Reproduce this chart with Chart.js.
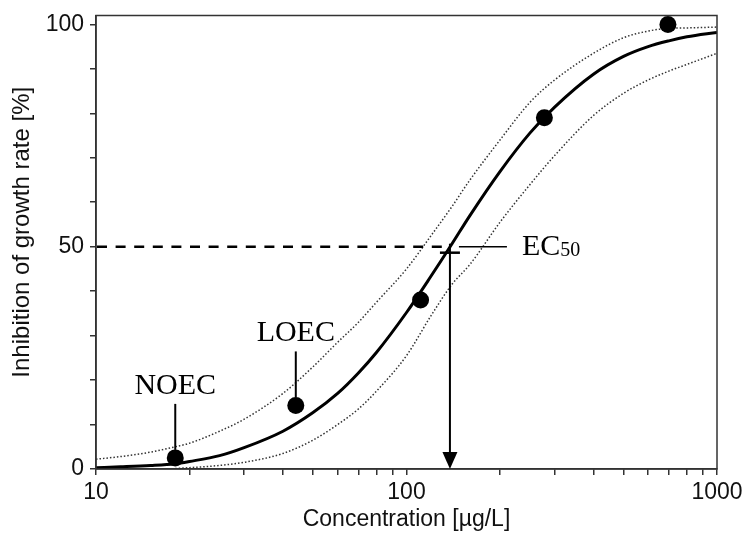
<!DOCTYPE html>
<html>
<head>
<meta charset="utf-8">
<script src="https://cdn.jsdelivr.net/npm/chart.js@4"></script>
<style>
  html, body { margin: 0; padding: 0; background: #fff; }
  #wrap { width: 746px; height: 533px; }
</style>
</head>
<body>
<div id="wrap"><canvas id="c" width="746" height="533"></canvas></div>
<script>
// ---- data ----
const conc     = [10, 12, 15, 18, 20, 25, 30, 40, 50, 60, 70, 80, 100, 120, 140, 160, 200, 250, 300, 400, 500, 600, 700, 800, 1000];
const fitted   = [0.3, 0.5, 0.8, 1.2, 1.7, 3.0, 4.8, 8.5, 12.7, 17, 21.6, 26.2, 35.2, 43.4, 50.6, 57, 66.9, 75.6, 81.4, 88.8, 92.8, 95, 96.3, 97.2, 98.2];
const upperCI  = [2.2, 2.8, 3.8, 5.0, 5.8, 8.5, 11.2, 17, 23, 28.5, 33, 37.5, 45, 52.5, 59, 65, 74, 82.5, 87.5, 93.5, 97, 98.5, 99.1, 99.2, 99.4];
const lowerCI  = [null, null, null, 0.1, 0.3, 0.8, 1.5, 3.5, 6.5, 10, 13.5, 17.5, 25.5, 34.5, 41.5, 46, 55.5, 64, 70.5, 79.5, 84.5, 87.5, 89.5, 91, 93.5];
const obsConc  = [18, 44, 111, 278, 695];
const obsInhib = [2.5, 14.3, 38, 79, 100];
const xTicks   = [10, 20, 30, 40, 50, 60, 70, 80, 90, 100, 200, 300, 400, 500, 600, 700, 800, 900, 1000];
const xLabels  = [10, 100, 1000];
const yTicks   = [0, 10, 20, 30, 40, 50, 60, 70, 80, 90, 100];
const yLabels  = [0, 50, 100];
const ec50     = 138;
const ec50Level = 50;
const markNames = ['NOEC', 'LOEC'];
const markIdx   = [0, 1];

const toXY = (xs, ys) => xs.map((v, i) => ({ x: v, y: ys[i] }));

const SANS = '"Liberation Sans", Arial, sans-serif';
const SERIF = '"Liberation Serif", "Times New Roman", serif';

const annot = {
  id: 'annot',
  afterDatasetsDraw(chart) {
    const { ctx, chartArea: ca } = chart;
    const x = chart.scales.x, y = chart.scales.y;
    ctx.save();
    // frame
    ctx.strokeStyle = '#333';
    ctx.lineWidth = 1.5;
    ctx.strokeRect(ca.left, ca.top, ca.right - ca.left, ca.bottom - ca.top);

    const ex = x.getPixelForValue(ec50), ey = y.getPixelForValue(ec50Level);
    ctx.strokeStyle = '#000';
    ctx.fillStyle = '#000';
    // dashed horizontal at 50 %
    ctx.lineWidth = 2.5;
    ctx.setLineDash([10, 8.6]);
    ctx.beginPath(); ctx.moveTo(ca.left + 1, ey); ctx.lineTo(ex - 8, ey); ctx.stroke();
    ctx.setLineDash([]);
    // thin leader to label
    ctx.lineWidth = 1.5;
    ctx.beginPath(); ctx.moveTo(ex + 9, ey); ctx.lineTo(ex + 57, ey); ctx.stroke();
    // short cross bar
    ctx.lineWidth = 2.5;
    ctx.beginPath(); ctx.moveTo(ex - 10, ey + 6); ctx.lineTo(ex + 10, ey + 6); ctx.stroke();
    // arrow down to axis
    ctx.lineWidth = 2;
    ctx.beginPath(); ctx.moveTo(ex, ey - 3); ctx.lineTo(ex, ca.bottom - 15); ctx.stroke();
    ctx.beginPath();
    ctx.moveTo(ex - 7.5, ca.bottom - 17); ctx.lineTo(ex + 7.5, ca.bottom - 17); ctx.lineTo(ex, ca.bottom);
    ctx.closePath(); ctx.fill();
    // EC50 label
    ctx.textAlign = 'left';
    ctx.textBaseline = 'alphabetic';
    ctx.font = '30px ' + SERIF;
    ctx.fillText('EC', ex + 72, ey + 8);
    const w = ctx.measureText('EC').width;
    ctx.font = '20px ' + SERIF;
    ctx.fillText('50', ex + 72 + w, ey + 9);

    // NOEC / LOEC labels
    ctx.font = '30px ' + SERIF;
    ctx.textAlign = 'center';
    ctx.lineWidth = 2;
    markIdx.forEach((k, i) => {
      const px = x.getPixelForValue(obsConc[k]);
      const py = y.getPixelForValue(obsInhib[k]);
      ctx.beginPath(); ctx.moveTo(px, py - 8); ctx.lineTo(px, py - 54); ctx.stroke();
      ctx.fillText(markNames[i], px, py - 64);
    });
    ctx.restore();
  }
};

new Chart(document.getElementById('c'), {
  type: 'scatter',
  data: {
    datasets: [
      {
        data: toXY(obsConc, obsInhib),
        pointRadius: 8.5, pointHoverRadius: 8.5,
        backgroundColor: '#000', borderWidth: 0, showLine: false, order: 0, clip: false
      },
      {
        data: toXY(conc, fitted), showLine: true, borderColor: '#000', borderWidth: 3,
        pointRadius: 0, cubicInterpolationMode: 'monotone', order: 1
      },
      {
        data: toXY(conc, upperCI), showLine: true, borderColor: '#333', borderWidth: 1.5,
        borderDash: [1.5, 2], pointRadius: 0, cubicInterpolationMode: 'monotone', order: 2
      },
      {
        data: toXY(conc, lowerCI), showLine: true, borderColor: '#333', borderWidth: 1.5,
        borderDash: [1.5, 2], pointRadius: 0, cubicInterpolationMode: 'monotone', spanGaps: false, order: 2
      }
    ]
  },
  options: {
    responsive: false,
    animation: false,
    devicePixelRatio: 1,
    layout: { padding: { top: 15.5, right: 29, left: 0, bottom: 0 } },
    plugins: { legend: { display: false }, tooltip: { enabled: false } },
    scales: {
      x: {
        type: 'logarithmic', min: 10, max: 1000, position: 'bottom',
        afterBuildTicks: s => { s.ticks = xTicks.map(v => ({ value: v })); },
        afterFit: s => { s.height = 64; s.paddingLeft = 0; s.paddingRight = 0; },
        grid: { drawOnChartArea: false, tickLength: 6, color: '#333', lineWidth: 1.5 },
        border: { color: '#333', width: 1.5 },
        ticks: {
          autoSkip: false, maxRotation: 0, padding: 4, color: '#111',
          font: { family: SANS, size: 23 },
          callback: v => xLabels.includes(v) ? String(v) : ''
        },
        title: { display: true, text: 'Concentration [µg/L]', color: '#111',
                 font: { family: SANS, size: 23 }, padding: { top: 0, bottom: 0 } }
      },
      y: {
        type: 'linear', min: 0, max: 102,
        afterBuildTicks: s => { s.ticks = yTicks.map(v => ({ value: v })); },
        afterFit: s => { s.width = 96; s.paddingTop = 0; s.paddingBottom = 0; },
        grid: { drawOnChartArea: false, tickLength: 6, color: '#333', lineWidth: 1.5 },
        border: { color: '#333', width: 1.5 },
        ticks: {
          autoSkip: false, padding: 6, color: '#111',
          font: { family: SANS, size: 23 },
          callback: v => yLabels.includes(v) ? String(v) : ''
        },
        title: { display: true, text: '   Inhibition of growth rate [%]', color: '#111',
                 font: { family: SANS, size: 24 }, padding: { top: 8, bottom: 0 } }
      }
    }
  },
  plugins: [annot]
});
</script>
</body>
</html>
